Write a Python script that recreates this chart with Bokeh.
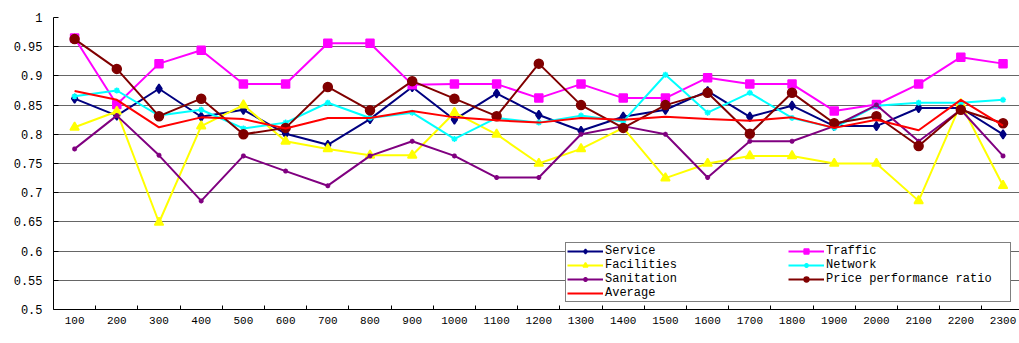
import numpy as np
from bokeh.plotting import figure
from bokeh.models import Range1d, FixedTicker, Legend, LegendItem
from bokeh.embed import file_html
from bokeh.resources import INLINE

categories = ["100", "200", "300", "400", "500", "600", "700", "800", "900", "1000",
              "1100", "1200", "1300", "1400", "1500", "1600", "1700", "1800", "1900",
              "2000", "2100", "2200", "2300"]

service = [0.861, 0.832, 0.878, 0.830, 0.842, 0.801, 0.782, 0.826, 0.881, 0.825,
           0.870, 0.833, 0.806, 0.830, 0.842, 0.874, 0.830, 0.849, 0.814, 0.814,
           0.845, 0.845, 0.800]
traffic = [0.965, 0.851, 0.921, 0.944, 0.886, 0.886, 0.956, 0.956, 0.885, 0.886,
           0.886, 0.862, 0.886, 0.862, 0.862, 0.897, 0.886, 0.886, 0.840, 0.851,
           0.886, 0.932, 0.921]
facilities = [0.812, 0.839, 0.649, 0.814, 0.850, 0.788, 0.775, 0.764, 0.764, 0.837,
              0.800, 0.750, 0.775, 0.811, 0.725, 0.750, 0.763, 0.763, 0.750, 0.750,
              0.686, 0.852, 0.712]
network = [0.865, 0.875, 0.832, 0.842, 0.810, 0.820, 0.854, 0.828, 0.837, 0.792,
           0.828, 0.820, 0.832, 0.822, 0.902, 0.837, 0.871, 0.828, 0.811, 0.849,
           0.854, 0.854, 0.859]
sanitation = [0.775, 0.832, 0.764, 0.686, 0.763, 0.737, 0.712, 0.763, 0.788, 0.763,
              0.726, 0.726, 0.800, 0.814, 0.800, 0.726, 0.788, 0.788, 0.814, 0.850,
              0.788, 0.842, 0.763]
price_ratio = [0.963, 0.912, 0.831, 0.861, 0.800, 0.811, 0.881, 0.841, 0.891, 0.861,
               0.831, 0.921, 0.850, 0.811, 0.850, 0.871, 0.801, 0.871, 0.819, 0.831,
               0.780, 0.842, 0.819]
average = [0.874, 0.859, 0.812, 0.829, 0.826, 0.810, 0.828, 0.828, 0.840, 0.829,
           0.824, 0.820, 0.828, 0.825, 0.830, 0.826, 0.823, 0.829, 0.811, 0.825,
           0.807, 0.859, 0.815]

y_ticks = [0.5, 0.55, 0.6, 0.65, 0.7, 0.75, 0.8, 0.85, 0.9, 0.95, 1.0]
y_tick_labels = ["0.5", "0.55", "0.6", "0.65", "0.7", "0.75", "0.8", "0.85", "0.9", "0.95", "1"]

FONT = "Liberation Mono"

x = np.arange(len(categories))

p = figure(width=1019, height=343, output_backend="svg", toolbar_location=None,
           x_range=Range1d(-0.5, 22.39), y_range=Range1d(0.5, 1.0),
           min_border_left=53, min_border_top=17, min_border_bottom=34, min_border_right=0)
p.outline_line_color = None
p.background_fill_color = "white"

# axes
p.xaxis.ticker = FixedTicker(ticks=[float(i) for i in x],
                             minor_ticks=[float(i) + 0.5 for i in x])
p.xaxis.major_label_overrides = {int(i): c for i, c in zip(x, categories)}
p.xaxis.major_tick_in = 0
p.xaxis.major_tick_out = 0
p.xaxis.minor_tick_in = 4
p.xaxis.minor_tick_out = 0
p.xaxis.minor_tick_line_color = "black"
p.xaxis.major_label_standoff = 7
p.xaxis.major_label_text_font = FONT
p.xaxis.major_label_text_font_size = "11px"
p.xaxis.major_label_text_color = "black"
p.xaxis.axis_line_color = "black"

p.yaxis.ticker = FixedTicker(ticks=y_ticks)
p.yaxis.major_label_overrides = {t: l for t, l in zip(y_ticks, y_tick_labels)}
p.yaxis.major_tick_in = 5
p.yaxis.major_tick_out = 0
p.yaxis.minor_tick_line_color = None
p.yaxis.major_label_standoff = 11
p.yaxis.major_label_text_font = FONT
p.yaxis.major_label_text_font_size = "12px"
p.yaxis.major_label_text_color = "black"
p.yaxis.axis_line_color = "black"

p.xgrid.grid_line_color = None
p.ygrid.ticker = FixedTicker(ticks=y_ticks[1:-1])
p.ygrid.grid_line_color = "#666666"
p.ygrid.grid_line_width = 1

series = [
    ("Service", service, "#000080", "diamond", 9, 2),
    ("Traffic", traffic, "#FF00FF", "square", 8, 2),
    ("Facilities", facilities, "#FFFF00", "triangle", 9, 2),
    ("Network", network, "#00FFFF", "asterisk", 6, 2),
    ("Sanitation", sanitation, "#800080", "asterisk", 5, 2),
    ("Price performance ratio", price_ratio, "#800000", "circle", 9, 2),
    ("Average", average, "#FF0000", None, 0, 2),
]

items = {}
for name, vals, color, marker, size, lw in series:
    rs = [p.line(x, vals, line_color=color, line_width=lw)]
    if marker is not None:
        rs.append(p.scatter(x, vals, marker=marker, size=size, line_color=color,
                            fill_color=color, line_width=1.5))
    items[name] = LegendItem(label=name, renderers=rs)

order = ["Service", "Facilities", "Sanitation", "Average",
         "Traffic", "Network", "Price performance ratio"]
legend = Legend(items=[items[n] for n in order], location=(512, 7),
                orientation="vertical", nrows=4,
                label_text_font=FONT, label_text_font_size="12px",
                label_text_color="black",
                glyph_width=36, glyph_height=12, label_height=12, label_width=183,
                label_standoff=2, spacing=0, padding=1, margin=0,
                border_line_color="black", border_line_width=1,
                background_fill_color="white", background_fill_alpha=1.0)
p.add_layout(legend)

open("out.html", "w").write(file_html(p, INLINE))
